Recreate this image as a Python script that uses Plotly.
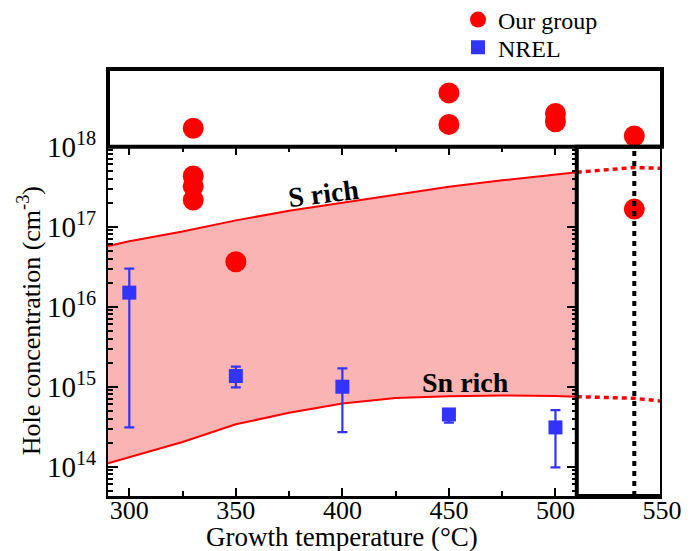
import plotly.graph_objects as go

# ---------------- data ----------------
# Our group (red circles) in the main panel
grp_T = [330, 330, 330, 350, 537]
grp_p = [4.3e17, 3.2e17, 2.16e17, 3.65e16, 1.66e17]
# Our group in the upper (broken-axis) panel, above 1e18
grp_top_T = [330, 450, 450, 500, 500, 537]
grp_top_p = [1.7e18, 4.7e18, 1.9e18, 2.6e18, 2.05e18, 1.36e18]

# NREL (blue squares with error bars)
nrel_T = [300, 350, 400, 450, 500]
nrel_p = [1.5e16, 1.36e15, 1.0e15, 4.5e14, 3.1e14]
nrel_hi = [3.0e16, 1.78e15, 1.7e15, 5.2e14, 5.1e14]
nrel_lo = [3.1e14, 9.8e14, 2.7e14, 3.55e14, 9.8e13]

# Calculated band (S rich upper, Sn rich lower)
band_T = [290, 300, 325, 350, 375, 400, 425, 450, 475, 500, 510]
s_rich = [5.75e16, 6.6e16, 8.7e16, 1.2e17, 1.58e17, 1.98e17, 2.5e17, 3.16e17, 3.8e17, 4.52e17, 4.79e17]
sn_rich = [1.1e14, 1.32e14, 2.04e14, 3.39e14, 4.73e14, 6.17e14, 7.24e14, 7.59e14, 7.76e14, 7.67e14, 7.5e14]

# Extrapolation (dotted) into the 510-550 box
ext_T = [510, 537, 550]
s_ext = [4.79e17, 5.5e17, 5.37e17]
sn_ext = [7.5e14, 7.16e14, 6.6e14]

ref_T = 537          # vertical dotted marker
box_T = [510, 550]   # boxed region

x_ticks = [300, 350, 400, 450, 500, 550]
x_minor = [325, 375, 425, 475]
top_ticks = [300, 350, 400, 450, 500]
y_ticks = [1e14, 1e15, 1e16, 1e17, 1e18]
y_ticktext = ["10<sup>14</sup>", "10<sup>15</sup>", "10<sup>16</sup>", "10<sup>17</sup>", "10<sup>18</sup>"]
y_minor = [k * 10 ** e for e in range(13, 18) for k in range(2, 10)]

FONT = "Liberation Serif"
RED = "#FF0000"
BLUE = "#3333FF"

fig = go.Figure()

fig.add_trace(go.Scatter(x=band_T, y=sn_rich, mode="lines", line=dict(color=RED, width=2),
                         showlegend=False, hoverinfo="skip"))
fig.add_trace(go.Scatter(x=band_T, y=s_rich, mode="lines", line=dict(color=RED, width=2),
                         fill="tonexty", fillcolor="rgb(250,180,180)",
                         showlegend=False, hoverinfo="skip"))
fig.add_trace(go.Scatter(x=ext_T, y=s_ext, mode="lines", line=dict(color=RED, width=3.5, dash="5px,4px"),
                         showlegend=False, hoverinfo="skip"))
fig.add_trace(go.Scatter(x=ext_T, y=sn_ext, mode="lines", line=dict(color=RED, width=3.5, dash="5px,4px"),
                         showlegend=False, hoverinfo="skip"))

fig.add_trace(go.Scatter(x=grp_T, y=grp_p, mode="markers", name="Our group", legend="legend",
                         marker=dict(color=RED, size=21), cliponaxis=False))
fig.add_trace(go.Scatter(
    x=nrel_T, y=nrel_p, mode="markers", name="NREL", legend="legend2",
    marker=dict(symbol="square", size=14, color=BLUE),
    error_y=dict(type="data", symmetric=False,
                 array=[h - p for h, p in zip(nrel_hi, nrel_p)],
                 arrayminus=[p - l for p, l in zip(nrel_p, nrel_lo)],
                 color=BLUE, thickness=2.2, width=5),
    cliponaxis=False))
fig.add_trace(go.Scatter(x=grp_top_T, y=grp_top_p, mode="markers", yaxis="y2",
                         marker=dict(color=RED, size=21), cliponaxis=False, showlegend=False))

# dummy trace for mirrored tick axes
fig.add_trace(go.Scatter(x=[400], y=[1e15], xaxis="x3", yaxis="y3", mode="markers",
                         marker=dict(opacity=0), showlegend=False, hoverinfo="skip"))

XR = [290, 550]
YR = [13.634, 18]
dom_split = 0.818

# page has an 8px body margin; figure sized/offset to compensate
ML, MT, PW, PH = 100, 61, 554, 427
W, H = 686, 543

def legend_y(page_y):
    return 1 + (MT - (page_y - 8)) / PH

leg_x = (458 - 8 - ML) / PW

fig.update_layout(
    width=W, height=H,
    margin=dict(l=ML, r=W - ML - PW, t=MT, b=H - MT - PH, autoexpand=False),
    paper_bgcolor="white", plot_bgcolor="white",
    font=dict(family=FONT, color="black"),
    xaxis=dict(range=XR, anchor="y", showgrid=False, zeroline=False, automargin=False,
               showline=True, linewidth=3, linecolor="black",
               ticks="inside", tickvals=x_ticks, ticklen=8, tickwidth=2, tickcolor="black",
               minor=dict(tickvals=x_minor, ticks="inside", ticklen=5, tickwidth=2, tickcolor="black", showgrid=False),
               tickfont=dict(family=FONT, size=26), ticklabelstandoff=-11),
    xaxis3=dict(range=XR, overlaying="x", anchor="y", side="top", showgrid=False, zeroline=False,
                automargin=False,
                showline=False, ticks="inside", tickvals=top_ticks, ticklen=8, tickwidth=2, tickcolor="black",
                minor=dict(tickvals=x_minor, ticks="inside", ticklen=5, tickwidth=2, tickcolor="black", showgrid=False),
                showticklabels=False),
    yaxis=dict(type="log", range=YR, domain=[0, dom_split], anchor="x", showgrid=False, zeroline=False,
               automargin=False,
               showline=True, linewidth=2, linecolor="black",
               ticks="inside", tickvals=y_ticks, ticktext=y_ticktext, ticklen=10, tickwidth=2, tickcolor="black",
               minor=dict(tickvals=y_minor, ticks="inside", ticklen=5, tickwidth=1.5, tickcolor="black", showgrid=False),
               tickfont=dict(family=FONT, size=29), ticklabelstandoff=4),
    yaxis3=dict(type="log", range=YR, overlaying="y", anchor="free", position=(box_T[0] - XR[0]) / (XR[1] - XR[0]),
                side="left", showgrid=False, zeroline=False, showline=False, automargin=False,
                ticks="outside", tickvals=y_ticks, ticklen=10, tickwidth=2, tickcolor="black",
                minor=dict(tickvals=y_minor, ticks="outside", ticklen=5, tickwidth=1.5, tickcolor="black", showgrid=False),
                showticklabels=False),
    yaxis2=dict(type="log", range=[18, 18.971], domain=[dom_split, 1], anchor="x", automargin=False,
                showgrid=False, zeroline=False, showline=False, ticks="", showticklabels=False),
    legend=dict(x=leg_x, y=legend_y(20), xanchor="left", yanchor="middle", bgcolor="rgba(0,0,0,0)",
                font=dict(family=FONT, size=24), itemsizing="trace"),
    legend2=dict(x=leg_x, y=legend_y(47.7), xanchor="left", yanchor="middle", bgcolor="rgba(0,0,0,0)",
                 font=dict(family=FONT, size=24), itemsizing="trace"),
    showlegend=True,
)

# frames
fig.add_shape(type="rect", xref="x domain", yref="y2 domain", x0=0, x1=1, y0=0, y1=1,
              line=dict(color="black", width=4), layer="above")
fig.add_shape(type="rect", xref="x", yref="y domain", x0=box_T[0], x1=box_T[1], y0=0, y1=1,
              line=dict(color="black", width=4), layer="above")
fig.add_shape(type="line", xref="x", yref="y domain", x0=ref_T, x1=ref_T, y0=0, y1=1,
              line=dict(color="black", width=4, dash="5px,5px"), layer="above")

# labels
fig.add_annotation(x=391, y=17.42, xref="x", yref="y", text="<b>S rich</b>", showarrow=False,
                   textangle=-7, font=dict(family=FONT, size=28))
fig.add_annotation(x=458, y=15.05, xref="x", yref="y", text="<b>Sn rich</b>", showarrow=False,
                   font=dict(family=FONT, size=28))
fig.add_annotation(x=400, y=-0.097, xref="x", yref="paper", yanchor="middle",
                   text="Growth temperature (°C)", showarrow=False,
                   font=dict(family=FONT, size=27))
fig.add_annotation(x=(29 - 8 - ML) / PW, y=dom_split / 2, xref="paper", yref="paper",
                   xanchor="center", yanchor="middle", textangle=-90,
                   text="Hole concentration (cm<sup>-3</sup>)", showarrow=False,
                   font=dict(family=FONT, size=26))

fig.write_html("out.html")
